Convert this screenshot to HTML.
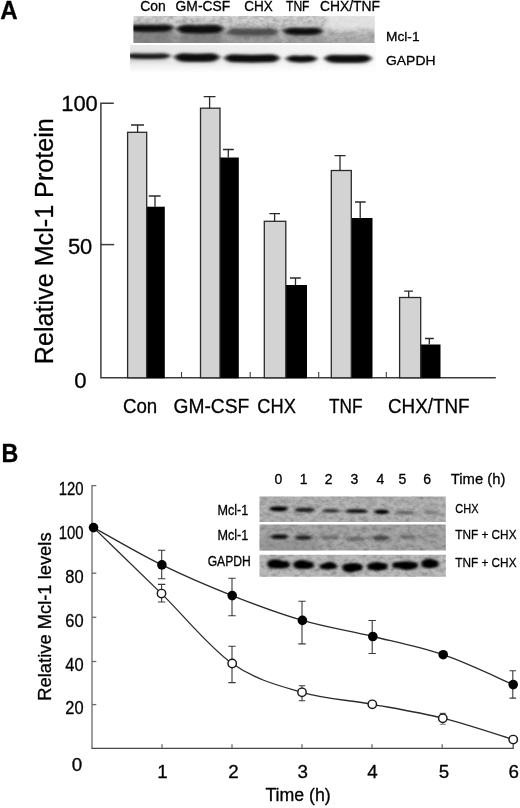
<!DOCTYPE html>
<html lang="en"><head><meta charset="utf-8"><title>Figure</title>
<style>html,body{margin:0;padding:0;background:#fff}svg{display:block}text{font-family:"Liberation Sans", Arial, Helvetica, sans-serif;fill:#000;stroke:#000;stroke-width:0.3px;stroke-linejoin:round}</style>
</head><body>
<svg width="520" height="808" viewBox="0 0 520 808">
<defs>
<filter id="b1" x="-30%" y="-150%" width="160%" height="400%"><feGaussianBlur stdDeviation="2.0 1.0"/></filter>
<filter id="bh" x="-30%" y="-150%" width="160%" height="400%"><feGaussianBlur stdDeviation="2.5 2.0"/></filter>
<filter id="b2" x="-30%" y="-150%" width="160%" height="400%"><feGaussianBlur stdDeviation="1.6 0.9"/></filter>
<filter id="b4" x="-30%" y="-150%" width="160%" height="400%"><feGaussianBlur stdDeviation="1.8 1.3"/></filter>
<filter id="b3" x="-20%" y="-100%" width="140%" height="300%"><feGaussianBlur stdDeviation="3 2.5"/></filter>
<filter id="bs" x="-5%" y="-20%" width="110%" height="140%"><feGaussianBlur stdDeviation="0.6"/></filter>
<linearGradient id="gA1" x1="0" y1="0" x2="0" y2="1"><stop offset="0" stop-color="#d9d9d9"/><stop offset="0.55" stop-color="#c2c2c2"/><stop offset="1" stop-color="#b4b4b4"/></linearGradient>
<linearGradient id="gA2" x1="0" y1="0" x2="1" y2="0"><stop offset="0" stop-color="#e6e6e6"/><stop offset="0.5" stop-color="#efefef"/><stop offset="1" stop-color="#fbfbfb"/></linearGradient><linearGradient id="gA2f" x1="0" y1="0" x2="0" y2="1"><stop offset="0" stop-color="#fff" stop-opacity="0"/><stop offset="0.6" stop-color="#fff" stop-opacity="0"/><stop offset="1" stop-color="#fff" stop-opacity="1"/></linearGradient>
<clipPath id="cA1"><rect x="133.5" y="16" width="241" height="27"/></clipPath>
<clipPath id="cA2"><rect x="130" y="45" width="246" height="28"/></clipPath>
<clipPath id="cB1"><rect x="259.5" y="496.5" width="186.3" height="25.5"/></clipPath>
<clipPath id="cB2"><rect x="259.5" y="524.5" width="186.3" height="26"/></clipPath>
<clipPath id="cB3"><rect x="259.5" y="554.8" width="186.3" height="22"/></clipPath>
<filter id="nz2" x="0" y="0" width="100%" height="100%"><feTurbulence type="fractalNoise" baseFrequency="0.18 0.25" numOctaves="3" seed="23" result="t"/><feColorMatrix in="t" type="matrix" values="0 0 0 0 0  0 0 0 0 0  0 0 0 0 0  0 0.36 0 0 -0.155"/><feComposite in2="SourceGraphic" operator="in"/></filter>
<filter id="nz" x="0" y="0" width="100%" height="100%"><feTurbulence type="fractalNoise" baseFrequency="0.16 0.22" numOctaves="3" seed="7" result="t"/><feColorMatrix in="t" type="matrix" values="0 0 0 0 0  0 0 0 0 0  0 0 0 0 0  0.36 0 0 0 -0.155"/><feComposite in2="SourceGraphic" operator="in"/></filter>
</defs>
<rect width="520" height="808" fill="#fff"/>
<text x="0.2" y="19" font-size="25.4" font-weight="bold" textLength="17.4" lengthAdjust="spacingAndGlyphs">A</text>
<text x="140.3" y="11.2" font-size="13.9" textLength="25.5" lengthAdjust="spacingAndGlyphs" stroke-width="0.14">Con</text>
<text x="175.6" y="11.2" font-size="13.9" textLength="54.6" lengthAdjust="spacingAndGlyphs" stroke-width="0.14">GM-CSF</text>
<text x="244.3" y="11.2" font-size="13.9" textLength="28.5" lengthAdjust="spacingAndGlyphs" stroke-width="0.14">CHX</text>
<text x="286" y="11.2" font-size="13.9" textLength="23.5" lengthAdjust="spacingAndGlyphs" stroke-width="0.14">TNF</text>
<text x="320" y="11.2" font-size="13.9" textLength="60" lengthAdjust="spacingAndGlyphs" stroke-width="0.14">CHX/TNF</text>
<text x="386" y="41" font-size="13.5" textLength="33.5" lengthAdjust="spacingAndGlyphs" stroke-width="0.14">Mcl-1</text>
<text x="386" y="64.5" font-size="13.5" textLength="49.5" lengthAdjust="spacingAndGlyphs" stroke-width="0.14">GAPDH</text>
<g clip-path="url(#cA1)">
<rect x="133" y="15" width="243" height="29" fill="url(#gA1)"/>
<rect x="133" y="15" width="243" height="29" fill="#8c8c8c" filter="url(#nz)"/>
<rect x="133" y="15" width="243" height="29" fill="#eee" filter="url(#nz2)"/>
<rect x="130" y="31" width="44" height="16" fill="#707070" opacity="0.7" filter="url(#b3)"/>
<rect x="178" y="33" width="46" height="14" fill="#707070" opacity="0.7" filter="url(#b3)"/>
<rect x="226" y="34" width="52" height="14" fill="#8a8a8a" opacity="0.55" filter="url(#b3)"/>
<rect x="284" y="34" width="40" height="14" fill="#8a8a8a" opacity="0.5" filter="url(#b3)"/>
<rect x="326" y="10" width="52" height="20" fill="#e8e8e8" opacity="0.8" filter="url(#b3)"/>
<rect x="325" y="36" width="50" height="10" fill="#999" opacity="0.4" filter="url(#b3)"/>
<rect x="129.0" y="24.1" width="42.5" height="9.0" rx="4.5" fill="#444" opacity="0.45" filter="url(#bh)"/>
<path d="M126.5 27.8Q130.1 24.7 135.5 24.9Q150.2 25.4 165.0 24.9Q170.4 24.7 174.0 27.8Q170.4 31.3 165.0 31.5Q150.2 32.1 135.5 31.5Q130.1 31.3 126.5 27.8Z" fill="#080808" opacity="1" filter="url(#b1)"/>
<rect x="179.0" y="24.5" width="42.5" height="10.2" rx="5.1" fill="#444" opacity="0.45" filter="url(#bh)"/>
<path d="M176.5 28.8Q180.1 25.1 185.5 25.3Q200.2 25.9 215.0 25.3Q220.4 25.1 224.0 28.8Q220.4 32.9 215.0 33.1Q200.2 33.7 185.5 33.1Q180.1 32.9 176.5 28.8Z" fill="#080808" opacity="1" filter="url(#b1)"/>
<rect x="229.0" y="27.8" width="47.5" height="9.0" rx="4.5" fill="#444" opacity="0.4" filter="url(#bh)"/>
<path d="M226.5 31.5Q230.1 28.4 235.5 28.6Q252.8 29.1 270.0 28.6Q275.4 28.4 279.0 31.5Q275.4 35.0 270.0 35.1Q252.8 35.8 235.5 35.1Q230.1 35.0 226.5 31.5Z" fill="#3c3c3c" opacity="0.75" filter="url(#b1)"/>
<rect x="285.5" y="27.4" width="35.0" height="8.6" rx="4.3" fill="#444" opacity="0.45" filter="url(#bh)"/>
<path d="M283.0 30.9Q286.6 28.0 292.0 28.1Q303.0 28.7 314.0 28.1Q319.4 28.0 323.0 30.9Q319.4 34.2 314.0 34.4Q303.0 35.0 292.0 34.4Q286.6 34.2 283.0 30.9Z" fill="#080808" opacity="1" filter="url(#b1)"/>
</g>
<g clip-path="url(#cA2)">
<rect x="130" y="45" width="246" height="28" fill="url(#gA2)"/>
<rect x="130" y="45" width="246" height="28" fill="url(#gA2f)"/>
<rect x="128.0" y="52.6" width="40.5" height="7.8" rx="3.9" fill="#777" opacity="0.35" filter="url(#bh)"/>
<path d="M125.5 55.7Q129.1 53.2 134.5 53.4Q148.2 54.0 162.0 53.4Q167.4 53.2 171.0 55.7Q167.4 58.6 162.0 58.8Q148.2 59.4 134.5 58.8Q129.1 58.6 125.5 55.7Z" fill="#1c1c1c" opacity="1" filter="url(#b1)"/>
<rect x="176.5" y="52.8" width="41.0" height="10.2" rx="5.1" fill="#777" opacity="0.4" filter="url(#bh)"/>
<path d="M174.0 57.1Q177.6 53.4 183.0 53.6Q197.0 54.2 211.0 53.6Q216.4 53.4 220.0 57.1Q216.4 61.2 211.0 61.4Q197.0 62.0 183.0 61.4Q177.6 61.2 174.0 57.1Z" fill="#080808" opacity="1" filter="url(#b1)"/>
<rect x="226.5" y="53.9" width="51.0" height="9.8" rx="4.9" fill="#777" opacity="0.4" filter="url(#bh)"/>
<path d="M224.0 58.0Q227.6 54.5 233.0 54.6Q252.0 55.2 271.0 54.6Q276.4 54.5 280.0 58.0Q276.4 61.9 271.0 62.1Q252.0 62.7 233.0 62.1Q227.6 61.9 224.0 58.0Z" fill="#080808" opacity="1" filter="url(#b1)"/>
<rect x="288.0" y="54.8" width="27.0" height="9.0" rx="4.5" fill="#777" opacity="0.35" filter="url(#bh)"/>
<path d="M285.5 58.5Q289.1 55.4 294.5 55.6Q301.5 56.2 308.5 55.6Q313.9 55.4 317.5 58.5Q313.9 62.0 308.5 62.1Q301.5 62.8 294.5 62.1Q289.1 62.0 285.5 58.5Z" fill="#101010" opacity="1" filter="url(#b1)"/>
<rect x="326.5" y="54.2" width="43.0" height="9.8" rx="4.9" fill="#777" opacity="0.4" filter="url(#bh)"/>
<path d="M324.0 58.3Q327.6 54.8 333.0 54.9Q348.0 55.5 363.0 54.9Q368.4 54.8 372.0 58.3Q368.4 62.2 363.0 62.4Q348.0 63.0 333.0 62.4Q327.6 62.2 324.0 58.3Z" fill="#080808" opacity="1" filter="url(#b1)"/>
</g>
<g stroke="#3c3c3c" stroke-width="1.5" fill="none">
<path d="M113.8 103.2H100.9V377.8H495.8"/>
<path d="M100.9 244.6H114.2"/>
<path d="M181.5 372V377.8" stroke-width="1.1"/>
<path d="M250.2 372V377.8" stroke-width="1.1"/>
<path d="M318.7 372V377.8" stroke-width="1.1"/>
<path d="M386.3 372V377.8" stroke-width="1.1"/>
</g>
<rect x="146.2" y="206.7" width="18.600000000000023" height="171.60000000000002" fill="#000"/>
<rect x="127.6" y="132.3" width="19.099999999999994" height="245.5" fill="#d3d3d3" stroke="#2a2a2a" stroke-width="1.3"/>
<path d="M131 125H144M137.6 125V132.3" stroke="#2a2a2a" stroke-width="1.3" fill="none"/>
<path d="M148.8 196H160.6M155 196V206.7" stroke="#2a2a2a" stroke-width="1.3" fill="none"/>
<rect x="219.5" y="157.5" width="19.30000000000001" height="220.8" fill="#000"/>
<rect x="200.5" y="108.2" width="19.5" height="269.6" fill="#d3d3d3" stroke="#2a2a2a" stroke-width="1.3"/>
<path d="M203.7 96.7H215.5M209.6 96.7V108.2" stroke="#2a2a2a" stroke-width="1.3" fill="none"/>
<path d="M223 149.5H233.8M228.3 149.5V157.5" stroke="#2a2a2a" stroke-width="1.3" fill="none"/>
<rect x="285.3" y="285" width="21.69999999999999" height="93.30000000000001" fill="#000"/>
<rect x="264.3" y="221.3" width="21.5" height="156.5" fill="#d3d3d3" stroke="#2a2a2a" stroke-width="1.3"/>
<path d="M269.4 213.7H280M274.6 213.7V221.3" stroke="#2a2a2a" stroke-width="1.3" fill="none"/>
<path d="M290 278H300.8M295.5 278V285" stroke="#2a2a2a" stroke-width="1.3" fill="none"/>
<rect x="350.8" y="218" width="21.69999999999999" height="160.3" fill="#000"/>
<rect x="331.3" y="170.5" width="20.0" height="207.3" fill="#d3d3d3" stroke="#2a2a2a" stroke-width="1.3"/>
<path d="M334.5 155.7H345.6M340 155.7V170.5" stroke="#2a2a2a" stroke-width="1.3" fill="none"/>
<path d="M355 202H365.6M360.2 202V218" stroke="#2a2a2a" stroke-width="1.3" fill="none"/>
<rect x="420.2" y="344.5" width="20.30000000000001" height="33.80000000000001" fill="#000"/>
<rect x="399.6" y="297.5" width="21.099999999999966" height="80.30000000000001" fill="#d3d3d3" stroke="#2a2a2a" stroke-width="1.3"/>
<path d="M404.2 291.2H413M408.7 291.2V297.5" stroke="#2a2a2a" stroke-width="1.3" fill="none"/>
<path d="M425 338.5H433.8M429.3 338.5V344.5" stroke="#2a2a2a" stroke-width="1.3" fill="none"/>
<text x="97.8" y="110.6" font-size="22.1" text-anchor="end" textLength="36.6" lengthAdjust="spacingAndGlyphs">100</text>
<text x="92.3" y="253.9" font-size="22.1" text-anchor="end" textLength="24.4" lengthAdjust="spacingAndGlyphs">50</text>
<text x="86.6" y="388.1" font-size="22.1" text-anchor="end">0</text>
<text x="122.9" y="412.6" font-size="20.2" textLength="34.3" lengthAdjust="spacingAndGlyphs">Con</text>
<text x="173.5" y="412.6" font-size="20.2" textLength="75.7" lengthAdjust="spacingAndGlyphs">GM-CSF</text>
<text x="257.3" y="412.6" font-size="20.2" textLength="38.5" lengthAdjust="spacingAndGlyphs">CHX</text>
<text x="329" y="412.6" font-size="20.2" textLength="33.5" lengthAdjust="spacingAndGlyphs">TNF</text>
<text x="388" y="412.6" font-size="20.2" textLength="81.5" lengthAdjust="spacingAndGlyphs">CHX/TNF</text>
<text transform="translate(53 364.2) rotate(-90)" font-size="26.3" textLength="246" lengthAdjust="spacingAndGlyphs">Relative Mcl-1 Protein</text>
<text x="1.4" y="461.6" font-size="25.8" font-weight="bold" textLength="16.8" lengthAdjust="spacingAndGlyphs">B</text>
<g stroke="#6a6a6a" stroke-width="1.3" fill="none">
<path d="M96.3 485.7H92V748.3"/>
<path d="M91.4 748.3H513.2V744.3" stroke="#484848"/>
<path d="M92 529.5H96.3"/>
<path d="M92 573.2H96.3"/>
<path d="M92 617.3H96.3"/>
<path d="M92 661.5H96.3"/>
<path d="M92 704.6H96.3"/>
<path d="M162 744.2V748.3"/>
<path d="M232 744.2V748.3"/>
<path d="M302 744.2V748.3"/>
<path d="M372 744.2V748.3"/>
<path d="M442.2 744.2V748.3"/>
</g>
<text x="58.8" y="495.2" font-size="18.3" textLength="24.8" lengthAdjust="spacingAndGlyphs">120</text>
<text x="58.8" y="538.5" font-size="18.3" textLength="24.8" lengthAdjust="spacingAndGlyphs">100</text>
<text x="65.3" y="583" font-size="18.3" textLength="18.3" lengthAdjust="spacingAndGlyphs">80</text>
<text x="65.3" y="627" font-size="18.3" textLength="18.3" lengthAdjust="spacingAndGlyphs">60</text>
<text x="65.3" y="670.7" font-size="18.3" textLength="18.3" lengthAdjust="spacingAndGlyphs">40</text>
<text x="65.3" y="714.3" font-size="18.3" textLength="18.3" lengthAdjust="spacingAndGlyphs">20</text>
<text x="71.8" y="770.7" font-size="18.8">0</text>
<text x="162.6" y="777.6" font-size="18.8" text-anchor="middle">1</text>
<text x="233.6" y="777.6" font-size="18.8" text-anchor="middle">2</text>
<text x="302.8" y="777.6" font-size="18.8" text-anchor="middle">3</text>
<text x="372.5" y="777.6" font-size="18.8" text-anchor="middle">4</text>
<text x="443.9" y="777.6" font-size="18.8" text-anchor="middle">5</text>
<text x="513.7" y="777.6" font-size="18.8" text-anchor="middle">6</text>
<text x="265.4" y="801" font-size="17.6" textLength="65.4" lengthAdjust="spacingAndGlyphs">Time (h)</text>
<text transform="translate(50.8 700.7) rotate(-90)" font-size="19" textLength="168.3" lengthAdjust="spacingAndGlyphs">Relative Mcl-1 levels</text>
<path d="M93.5 527.6C116.3 540.0 138.8 553.6 161.9 564.9C185.0 576.2 208.8 586.4 232.2 595.6C255.6 604.9 279.0 613.6 302.4 620.4C325.8 627.2 349.3 630.8 372.8 636.5C396.3 642.2 419.8 646.7 443.2 654.7C466.6 662.7 501.5 679.6 513.2 684.6" stroke="#2b2b2b" stroke-width="1.3" fill="none"/>
<path d="M93.5 527.6C116.2 549.6 138.4 571.0 161.5 593.6C184.6 616.2 208.8 647.0 232.2 663.5C255.6 680.0 278.6 685.5 302.0 692.3C325.4 699.1 348.8 700.0 372.3 704.3C395.8 708.6 419.3 712.3 442.8 718.2C466.3 724.1 501.5 736.0 513.2 739.6" stroke="#2b2b2b" stroke-width="1.3" fill="none"/>
<path d="M158.0 550.2H165.39999999999998M158.0 578.7H165.39999999999998M161.7 550.2V578.7" stroke="#3a3a3a" stroke-width="1.1" fill="none"/>
<path d="M157.9 584.4H165.29999999999998M157.9 602H165.29999999999998M161.6 584.4V602" stroke="#3a3a3a" stroke-width="1.1" fill="none"/>
<path d="M228.3 578.2H235.7M228.3 615.8H235.7M232 578.2V615.8" stroke="#3a3a3a" stroke-width="1.1" fill="none"/>
<path d="M228.3 646.2H235.7M228.3 682.6H235.7M232 646.2V682.6" stroke="#3a3a3a" stroke-width="1.1" fill="none"/>
<path d="M298.3 601.2H305.7M298.3 643.9H305.7M302 601.2V643.9" stroke="#3a3a3a" stroke-width="1.1" fill="none"/>
<path d="M298.8 685.7H305.2M298.8 700.7H305.2M302 685.7V700.7" stroke="#3a3a3a" stroke-width="1.1" fill="none"/>
<path d="M368.5 620.5H375.9M368.5 653.5H375.9M372.2 620.5V653.5" stroke="#3a3a3a" stroke-width="1.1" fill="none"/>
<path d="M439.8 713.4H445.8M439.8 724.3H445.8M442.8 713.4V724.3" stroke="#777" stroke-width="1.1" fill="none"/>
<path d="M509.49999999999994 670.8H516.0999999999999M509.49999999999994 698.1H516.0999999999999M512.8 670.8V698.1" stroke="#3a3a3a" stroke-width="1.1" fill="none"/>
<circle cx="93.5" cy="527.6" r="4.8" fill="#000"/>
<circle cx="161.9" cy="564.9" r="4.8" fill="#000"/>
<circle cx="232.2" cy="595.6" r="4.8" fill="#000"/>
<circle cx="302.4" cy="620.4" r="4.8" fill="#000"/>
<circle cx="372.8" cy="636.5" r="4.8" fill="#000"/>
<circle cx="443.2" cy="654.7" r="4.8" fill="#000"/>
<circle cx="513.2" cy="684.6" r="4.8" fill="#000"/>
<circle cx="161.5" cy="593.6" r="4.2" fill="#fff" stroke="#1a1a1a" stroke-width="1.45"/>
<circle cx="232.2" cy="663.5" r="4.2" fill="#fff" stroke="#1a1a1a" stroke-width="1.45"/>
<circle cx="302" cy="692.3" r="4.2" fill="#fff" stroke="#1a1a1a" stroke-width="1.45"/>
<circle cx="372.3" cy="704.3" r="4.2" fill="#fff" stroke="#1a1a1a" stroke-width="1.45"/>
<circle cx="442.8" cy="718.2" r="4.2" fill="#fff" stroke="#1a1a1a" stroke-width="1.45"/>
<circle cx="513.2" cy="739.6" r="4.2" fill="#fff" stroke="#1a1a1a" stroke-width="1.45"/>
<text x="278.5" y="484.2" font-size="14" text-anchor="middle" stroke-width="0.14">0</text>
<text x="303.7" y="484.2" font-size="14" text-anchor="middle" stroke-width="0.14">1</text>
<text x="328.6" y="484.2" font-size="14" text-anchor="middle" stroke-width="0.14">2</text>
<text x="354.3" y="484.2" font-size="14" text-anchor="middle" stroke-width="0.14">3</text>
<text x="380.5" y="484.2" font-size="14" text-anchor="middle" stroke-width="0.14">4</text>
<text x="402.3" y="484.2" font-size="14" text-anchor="middle" stroke-width="0.14">5</text>
<text x="427.2" y="484.2" font-size="14" text-anchor="middle" stroke-width="0.14">6</text>
<text x="450.8" y="484.2" font-size="15" textLength="54.7" lengthAdjust="spacingAndGlyphs">Time (h)</text>
<text x="217.5" y="514.8" font-size="13.9" textLength="30.8" lengthAdjust="spacingAndGlyphs" stroke-width="0.14">Mcl-1</text>
<text x="217.5" y="540" font-size="13.9" textLength="30.8" lengthAdjust="spacingAndGlyphs" stroke-width="0.14">Mcl-1</text>
<text x="207.7" y="566.2" font-size="13.9" textLength="43.1" lengthAdjust="spacingAndGlyphs" stroke-width="0.14">GAPDH</text>
<text x="455.3" y="512.6" font-size="13.5" textLength="23.2" lengthAdjust="spacingAndGlyphs" stroke-width="0.14">CHX</text>
<text x="455.3" y="539" font-size="13.5" textLength="61.2" lengthAdjust="spacingAndGlyphs" stroke-width="0.14">TNF + CHX</text>
<text x="455.3" y="566.6" font-size="13.5" textLength="61.2" lengthAdjust="spacingAndGlyphs" stroke-width="0.14">TNF + CHX</text>
<g clip-path="url(#cB1)">
<rect x="259" y="496" width="188" height="27" fill="#b4b4b4"/>
<rect x="259" y="496" width="188" height="27" fill="#6a6a6a" filter="url(#nz)"/>
<rect x="259" y="496" width="188" height="27" fill="#e2e2e2" filter="url(#nz2)"/>
<path d="M269.0 508.8Q271.3 506.4 274.8 506.4Q278.8 506.4 282.7 506.4Q286.2 506.4 288.5 508.8Q286.2 511.2 282.7 511.2Q278.8 511.2 274.8 511.2Q271.3 511.2 269.0 508.8Z" fill="#050505" opacity="1" filter="url(#b2)"/>
<path d="M294.0 509.9Q296.4 507.8 300.0 507.8Q304.8 507.8 309.5 507.8Q313.1 507.8 315.5 509.9Q313.1 511.9 309.5 511.9Q304.8 511.9 300.0 511.9Q296.4 511.9 294.0 509.9Z" fill="#151515" opacity="0.95" filter="url(#b2)"/>
<path d="M322.0 510.9Q324.1 509.1 327.2 509.1Q330.8 509.1 334.3 509.1Q337.4 509.1 339.5 510.9Q337.4 512.6 334.3 512.6Q330.8 512.6 327.2 512.6Q324.1 512.6 322.0 510.9Z" fill="#222" opacity="0.9" filter="url(#b2)"/>
<path d="M345.5 511.2Q347.9 509.3 351.5 509.3Q356.8 509.3 362.0 509.3Q365.6 509.3 368.0 511.2Q365.6 513.1 362.0 513.1Q356.8 513.1 351.5 513.1Q347.9 513.1 345.5 511.2Z" fill="#111" opacity="1" filter="url(#b2)"/>
<path d="M374.0 511.8Q375.8 509.7 378.5 509.7Q381.8 509.7 385.0 509.7Q387.7 509.7 389.5 511.8Q387.7 514.0 385.0 514.0Q381.8 514.0 378.5 514.0Q375.8 514.0 374.0 511.8Z" fill="#050505" opacity="1" filter="url(#b2)"/>
<path d="M394.5 512.5Q396.9 510.8 400.5 510.8Q405.2 510.8 410.0 510.8Q413.6 510.8 416.0 512.5Q413.6 514.2 410.0 514.2Q405.2 514.2 400.5 514.2Q396.9 514.2 394.5 512.5Z" fill="#3a3a3a" opacity="0.6" filter="url(#b2)"/>
<path d="M423.0 512.5Q425.0 510.8 428.0 510.8Q431.5 510.8 435.0 510.8Q438.0 510.8 440.0 512.5Q438.0 514.2 435.0 514.2Q431.5 514.2 428.0 514.2Q425.0 514.2 423.0 512.5Z" fill="#444" opacity="0.5" filter="url(#b2)"/>
</g>
<g clip-path="url(#cB2)">
<rect x="259" y="524" width="188" height="27" fill="#a7a7a7"/>
<rect x="259" y="524" width="188" height="27" fill="#5a5a5a" filter="url(#nz)"/>
<rect x="259" y="524" width="188" height="27" fill="#d0d0d0" filter="url(#nz2)"/>
<rect x="259" y="540" width="60" height="12" fill="#888" opacity="0.5" filter="url(#b3)"/>
<path d="M270.5 536.8Q272.6 534.4 275.8 534.4Q279.5 534.4 283.2 534.4Q286.4 534.4 288.5 536.8Q286.4 539.1 283.2 539.1Q279.5 539.1 275.8 539.1Q272.6 539.1 270.5 536.8Z" fill="#080808" opacity="1" filter="url(#b2)"/>
<path d="M294.5 537.6Q296.6 535.5 299.8 535.5Q303.5 535.5 307.2 535.5Q310.4 535.5 312.5 537.6Q310.4 539.8 307.2 539.8Q303.5 539.8 299.8 539.8Q296.6 539.8 294.5 537.6Z" fill="#151515" opacity="0.95" filter="url(#b2)"/>
<path d="M321.0 537.5Q323.1 535.5 326.3 535.5Q330.0 535.5 333.7 535.5Q336.9 535.5 339.0 537.5Q336.9 539.5 333.7 539.5Q330.0 539.5 326.3 539.5Q323.1 539.5 321.0 537.5Z" fill="#3a3a3a" opacity="0.5" filter="url(#b2)"/>
<path d="M346.0 539.0Q348.4 536.9 352.0 536.9Q356.0 536.9 360.0 536.9Q363.6 536.9 366.0 539.0Q363.6 541.1 360.0 541.1Q356.0 541.1 352.0 541.1Q348.4 541.1 346.0 539.0Z" fill="#3a3a3a" opacity="0.55" filter="url(#b2)"/>
<path d="M372.0 538.0Q374.1 535.6 377.2 535.6Q380.8 535.6 384.3 535.6Q387.4 535.6 389.5 538.0Q387.4 540.4 384.3 540.4Q380.8 540.4 377.2 540.4Q374.1 540.4 372.0 538.0Z" fill="#222" opacity="0.72" filter="url(#b2)"/>
<path d="M399.0 537.0Q401.1 535.0 404.3 535.0Q408.0 535.0 411.7 535.0Q414.9 535.0 417.0 537.0Q414.9 539.0 411.7 539.0Q408.0 539.0 404.3 539.0Q401.1 539.0 399.0 537.0Z" fill="#3a3a3a" opacity="0.5" filter="url(#b2)"/>
<path d="M423.0 536.0Q424.9 534.2 427.7 534.2Q431.0 534.2 434.3 534.2Q437.1 534.2 439.0 536.0Q437.1 537.8 434.3 537.8Q431.0 537.8 427.7 537.8Q424.9 537.8 423.0 536.0Z" fill="#555" opacity="0.3" filter="url(#b2)"/>
</g>
<g clip-path="url(#cB3)">
<rect x="259" y="554" width="188" height="24" fill="#bbbbbb"/>
<rect x="259" y="554" width="188" height="24" fill="#777" filter="url(#nz)"/>
<rect x="259" y="554" width="188" height="24" fill="#e6e6e6" filter="url(#nz2)"/>
<g filter="url(#b4)" fill="#040404">
<ellipse cx="275.6" cy="563.9" rx="8.6" ry="4.7"/>
<ellipse cx="280.4" cy="564.9" rx="9.5" ry="3.8"/>
<rect x="267.7" y="560.9" width="21.8" height="7.0" rx="3.5"/>
</g>
<g filter="url(#b4)" fill="#040404">
<ellipse cx="301.4" cy="564.5" rx="8.0" ry="4.5"/>
<ellipse cx="305.0" cy="565.5" rx="8.8" ry="3.6"/>
<rect x="293.6" y="561.7" width="20.1" height="6.6" rx="3.3"/>
</g>
<g filter="url(#b4)" fill="#040404">
<ellipse cx="329.3" cy="565.7" rx="7.0" ry="3.6"/>
<ellipse cx="327.7" cy="566.9" rx="7.8" ry="2.7"/>
<rect x="319.6" y="563.9" width="17.4" height="4.8" rx="2.4"/>
</g>
<g filter="url(#b4)" fill="#040404">
<ellipse cx="350.3" cy="568.0" rx="7.9" ry="4.6"/>
<ellipse cx="353.8" cy="566.8" rx="8.8" ry="3.7"/>
<rect x="342.5" y="564.0" width="20.0" height="6.8" rx="3.4"/>
</g>
<g filter="url(#b4)" fill="#040404">
<ellipse cx="377.4" cy="566.5" rx="8.0" ry="4.4"/>
<ellipse cx="377.4" cy="566.5" rx="8.9" ry="3.5"/>
<rect x="367.3" y="563.3" width="20.2" height="6.4" rx="3.2"/>
</g>
<g filter="url(#b4)" fill="#040404">
<ellipse cx="407.2" cy="565.7" rx="10.0" ry="4.2"/>
<ellipse cx="403.9" cy="564.7" rx="11.1" ry="3.3"/>
<rect x="392.3" y="562.2" width="25.7" height="6.0" rx="3.0"/>
</g>
<g filter="url(#b4)" fill="#040404">
<ellipse cx="429.0" cy="563.5" rx="7.0" ry="4.8"/>
<ellipse cx="430.5" cy="564.1" rx="7.8" ry="3.9"/>
<rect x="421.2" y="560.2" width="17.5" height="7.2" rx="3.6"/>
</g>
</g>
</svg>
</body></html>
